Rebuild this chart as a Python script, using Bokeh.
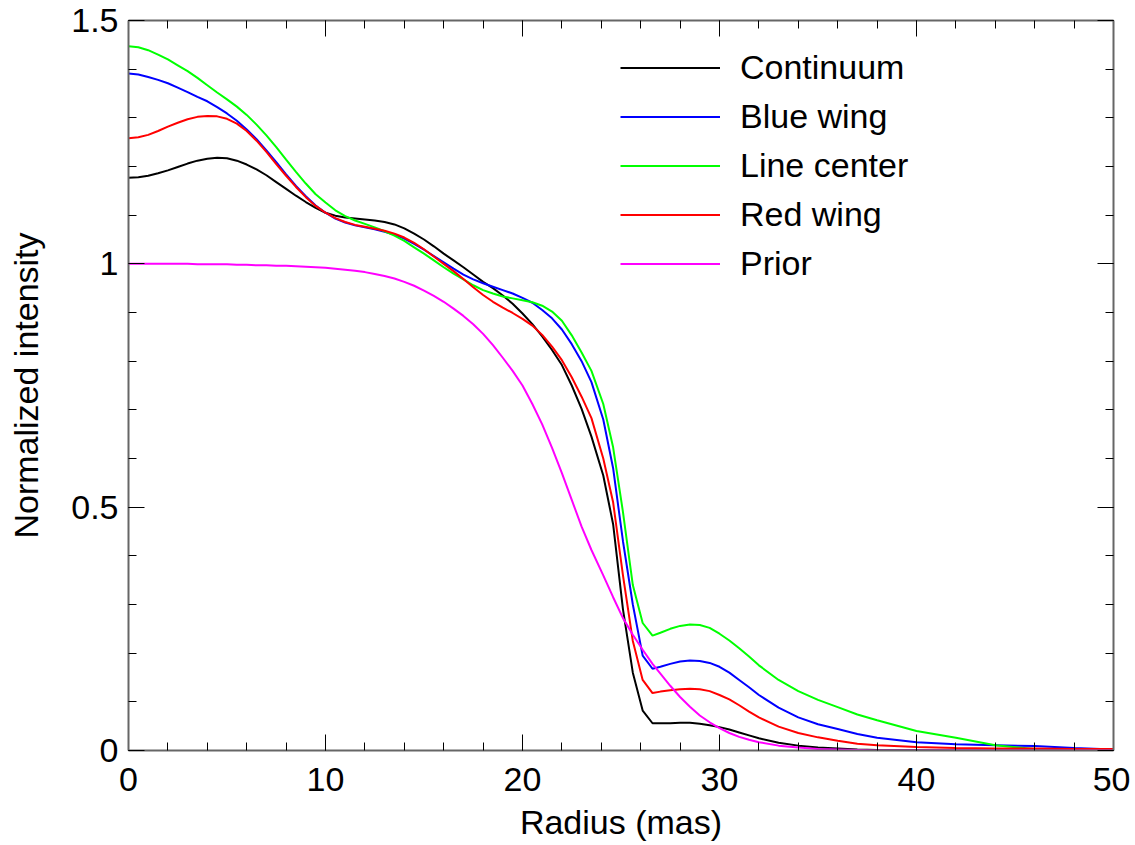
from bokeh.plotting import figure
from bokeh.models import Range1d, LinearAxis, SingleIntervalTicker, Legend, LegendItem, CustomJSTickFormatter
from bokeh.embed import file_html
from bokeh.resources import INLINE

radius = [0, 0.5, 1, 1.5, 2, 2.5, 3, 3.5, 4, 4.5, 5, 5.5, 6, 6.5, 7, 7.5, 8, 8.5, 9, 9.5,
          10, 10.5, 11, 11.5, 12, 12.5, 13, 13.5, 14, 14.5, 15, 15.5, 16, 16.5, 17, 17.5,
          18, 18.5, 19, 19.5, 20, 20.5, 21, 21.5, 22, 22.5, 23,
          23.5, 24.1, 24.6, 25.1, 25.6, 26.1, 26.6, 27, 27.5, 28, 28.5, 29, 29.5, 30,
          30.5, 31, 31.5, 32, 33, 34, 35, 36, 37, 38, 40, 42, 44, 46, 48, 50]

continuum = [1.177, 1.178, 1.181, 1.186, 1.192, 1.199, 1.206, 1.212, 1.216, 1.218,
             1.217, 1.212, 1.204, 1.194, 1.182, 1.168, 1.154, 1.140, 1.127, 1.115,
             1.105, 1.099, 1.095, 1.093, 1.091, 1.089, 1.086, 1.081, 1.073, 1.062,
             1.050, 1.036, 1.021, 1.007, 0.993, 0.978, 0.963, 0.950, 0.935, 0.918,
             0.898, 0.876, 0.851, 0.823, 0.792, 0.750, 0.702,
             0.645, 0.565, 0.465, 0.290, 0.160, 0.082, 0.056, 0.056, 0.056, 0.057,
             0.057, 0.055, 0.052, 0.048, 0.043, 0.037, 0.031, 0.025, 0.016, 0.010,
             0.006, 0.004, 0.002, 0.001, 0.0005, 0.0, 0.0, 0.0, 0.0, 0.0]

blue_wing = [1.391, 1.389, 1.384, 1.378, 1.371, 1.362, 1.353, 1.343, 1.334, 1.322,
             1.309, 1.294, 1.276, 1.256, 1.233, 1.209, 1.184, 1.160, 1.139, 1.120,
             1.105, 1.093, 1.085, 1.079, 1.075, 1.071, 1.066, 1.060, 1.052, 1.041,
             1.029, 1.016, 1.003, 0.990, 0.978, 0.968, 0.960, 0.953, 0.946, 0.939,
             0.930, 0.920, 0.905, 0.888, 0.865, 0.835, 0.800,
             0.757, 0.680, 0.580, 0.430, 0.300, 0.195, 0.168, 0.172, 0.178, 0.183,
             0.185, 0.184, 0.180, 0.172, 0.160, 0.145, 0.130, 0.114, 0.088, 0.068,
             0.054, 0.044, 0.034, 0.026, 0.017, 0.013, 0.011, 0.009, 0.005, 0.002]

line_center = [1.447, 1.445, 1.439, 1.430, 1.420, 1.408, 1.396, 1.382, 1.367, 1.352,
               1.338, 1.323, 1.306, 1.286, 1.264, 1.240, 1.214, 1.189, 1.165, 1.143,
               1.126, 1.110, 1.098, 1.089, 1.082, 1.075, 1.067, 1.058, 1.047, 1.034,
               1.021, 1.007, 0.993, 0.980, 0.968, 0.956, 0.946, 0.939, 0.933, 0.929,
               0.925, 0.921, 0.914, 0.902, 0.883, 0.853, 0.818,
               0.780, 0.712, 0.623, 0.490, 0.340, 0.262, 0.236, 0.242, 0.250, 0.256,
               0.259, 0.258, 0.252, 0.240, 0.226, 0.210, 0.193, 0.175, 0.145, 0.122,
               0.104, 0.089, 0.074, 0.062, 0.040, 0.026, 0.011, 0.003, 0.001, 0.0]

red_wing = [1.258, 1.260, 1.265, 1.273, 1.282, 1.290, 1.297, 1.302, 1.304, 1.303,
            1.298, 1.288, 1.273, 1.253, 1.230, 1.205, 1.181, 1.158, 1.137, 1.119,
            1.105, 1.094, 1.086, 1.080, 1.076, 1.072, 1.068, 1.062, 1.054, 1.043,
            1.030, 1.015, 1.000, 0.985, 0.969, 0.952, 0.936, 0.922, 0.910, 0.899,
            0.887, 0.873, 0.854, 0.830, 0.802, 0.767, 0.727,
            0.683, 0.600, 0.510, 0.360, 0.225, 0.145, 0.118, 0.121, 0.124, 0.126,
            0.127, 0.126, 0.122, 0.114, 0.105, 0.093, 0.080, 0.068, 0.049, 0.036,
            0.027, 0.020, 0.014, 0.011, 0.007, 0.005, 0.004, 0.004, 0.003, 0.003]

prior = [1.000, 1.000, 1.000, 1.000, 1.000, 1.000, 1.000, 0.999, 0.999, 0.999,
         0.999, 0.998, 0.998, 0.997, 0.997, 0.996, 0.996, 0.995, 0.994, 0.993,
         0.992, 0.990, 0.988, 0.986, 0.983, 0.979, 0.975, 0.970, 0.963, 0.955,
         0.945, 0.934, 0.922, 0.908, 0.893, 0.876, 0.856, 0.833, 0.807, 0.780,
         0.750, 0.712, 0.670, 0.622, 0.570, 0.515, 0.460,
         0.412, 0.360, 0.315, 0.272, 0.238, 0.207, 0.178, 0.158, 0.133, 0.110,
         0.090, 0.072, 0.058, 0.046, 0.036, 0.028, 0.022, 0.017, 0.010, 0.006,
         0.003, 0.002, 0.001, 0.0, 0.0, 0.0, 0.0, 0.0, 0.0, 0.0]

series_names = ["Continuum", "Blue wing", "Line center", "Red wing", "Prior"]
series_values = [continuum, blue_wing, line_center, red_wing, prior]
series_colors = ["#000000", "#0000ff", "#00ff00", "#ff0000", "#ff00ff"]

FONT = "Liberation Sans"
FS = "34px"

p = figure(width=1130, height=843, x_range=Range1d(0, 50), y_range=Range1d(0, 1.5),
           output_backend="svg", toolbar_location=None,
           min_border_left=128, min_border_right=17, min_border_top=20, min_border_bottom=93)
p.xgrid.visible = False
p.ygrid.visible = False
p.outline_line_color = None
p.background_fill_color = "white"
p.border_fill_color = "white"

bottom = p.below[0]
left = p.left[0]
bottom.ticker = SingleIntervalTicker(interval=10, num_minor_ticks=5)
left.ticker = SingleIntervalTicker(interval=0.5, num_minor_ticks=5)
left.formatter = CustomJSTickFormatter(code="return String(+tick.toFixed(2));")
bottom.axis_label = "Radius (mas)"
left.axis_label = "Normalized intensity"

top = LinearAxis(ticker=SingleIntervalTicker(interval=10, num_minor_ticks=5))
right = LinearAxis(ticker=SingleIntervalTicker(interval=0.5, num_minor_ticks=5))
p.add_layout(top, "above")
p.add_layout(right, "right")

for ax in [bottom, left, top, right]:
    ax.major_tick_in = 16
    ax.major_tick_out = 0
    ax.minor_tick_in = 8
    ax.minor_tick_out = 0
    ax.axis_line_color = "#666666"
    ax.axis_line_width = 2
    ax.major_tick_line_color = "#000000"
    ax.minor_tick_line_color = "#000000"
    ax.major_label_text_font = FONT
    ax.major_label_text_font_size = FS
    ax.major_label_text_color = "black"
    ax.axis_label_text_font = FONT
    ax.axis_label_text_font_size = FS
    ax.axis_label_text_font_style = "normal"
    ax.axis_label_text_color = "black"

for ax in [top, right]:
    ax.major_label_text_font_size = "0px"
    ax.major_label_text_color = None
    ax.major_label_standoff = 0

bottom.major_label_standoff = 17
bottom.axis_label_standoff = 9
left.major_label_standoff = 10
left.axis_label_standoff = 23

items = []
for name, vals, col in zip(series_names, series_values, series_colors):
    r = p.line(radius, vals, line_color=col, line_width=2)
    items.append(LegendItem(label=name, renderers=[r]))

legend = Legend(items=items, location=(492, 462), padding=0, margin=0, spacing=0,
                glyph_width=100, glyph_height=49, label_height=49, label_standoff=20,
                border_line_color=None, background_fill_alpha=0,
                label_text_font=FONT, label_text_font_size=FS, label_text_color="black")
p.add_layout(legend)

open("out.html", "w").write(file_html(p, INLINE))
